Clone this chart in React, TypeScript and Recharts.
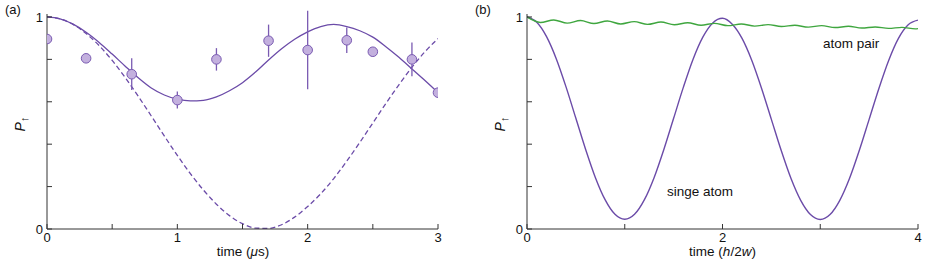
import { ComposedChart, LineChart, Line, Scatter, ErrorBar, XAxis, YAxis } from 'recharts';

// panel (a): measured points, damped fit (solid) and ideal oscillation (dashed)
const timeA = [0, 0.1, 0.2, 0.3, 0.4, 0.5, 0.6, 0.7, 0.8, 0.9, 1.0, 1.1, 1.2, 1.3, 1.4, 1.5, 1.6, 1.7, 1.8, 1.9, 2.0, 2.1, 2.2, 2.3, 2.4, 2.5, 2.6, 2.7, 2.8, 2.9, 3.0];
const fitA = [1.0, 0.991, 0.966, 0.928, 0.88, 0.825, 0.768, 0.713, 0.665, 0.632, 0.612, 0.604, 0.607, 0.623, 0.652, 0.69, 0.74, 0.797, 0.85, 0.895, 0.93, 0.955, 0.965, 0.955, 0.935, 0.905, 0.86, 0.81, 0.755, 0.7, 0.643];
const idealA = [1.0, 0.991, 0.965, 0.922, 0.865, 0.795, 0.714, 0.626, 0.533, 0.439, 0.347, 0.261, 0.184, 0.117, 0.063, 0.025, 0.004, 0.003, 0.02, 0.056, 0.106, 0.166, 0.238, 0.32, 0.408, 0.5, 0.592, 0.68, 0.763, 0.836, 0.898];
const measT = [0, 0.3, 0.65, 1.0, 1.3, 1.7, 2.0, 2.3, 2.5, 2.8, 3.0];
const measP = [0.896, 0.805, 0.73, 0.608, 0.8, 0.888, 0.844, 0.89, 0.836, 0.8, 0.643];
const measErr = [0, 0, 0.075, 0.04, 0.053, 0.076, 0.185, 0.06, 0, 0.08, 0];

// panel (b): single atom vs atom pair
const timeB = [0, 0.1, 0.2, 0.3, 0.4, 0.5, 0.6, 0.7, 0.8, 0.9, 1.0, 1.1, 1.2, 1.3, 1.4, 1.5, 1.6, 1.7, 1.8, 1.9, 2.0, 2.1, 2.2, 2.3, 2.4, 2.5, 2.6, 2.7, 2.8, 2.9, 3.0, 3.1, 3.2, 3.3, 3.4, 3.5, 3.6, 3.7, 3.8, 3.9, 4.0];
const singleB = [1.0, 0.975, 0.907, 0.802, 0.669, 0.522, 0.375, 0.242, 0.137, 0.069, 0.046, 0.069, 0.137, 0.242, 0.375, 0.522, 0.669, 0.802, 0.906, 0.972, 0.994, 0.966, 0.899, 0.795, 0.663, 0.517, 0.371, 0.239, 0.135, 0.068, 0.045, 0.068, 0.135, 0.239, 0.371, 0.517, 0.663, 0.795, 0.899, 0.963, 0.985];
const pairT = [0, 0.137, 0.274, 0.411, 0.548, 0.685, 0.822, 0.959, 1.096, 1.233, 1.37, 1.507, 1.644, 1.781, 1.918, 2.055, 2.192, 2.329, 2.466, 2.603, 2.74, 2.877, 3.014, 3.151, 3.288, 3.425, 3.562, 3.699, 3.836, 3.973, 4.0];
const pairB = [1.0, 0.974, 0.986, 0.971, 0.983, 0.969, 0.981, 0.967, 0.978, 0.965, 0.976, 0.963, 0.973, 0.961, 0.97, 0.959, 0.967, 0.957, 0.964, 0.955, 0.961, 0.952, 0.959, 0.95, 0.956, 0.948, 0.953, 0.946, 0.951, 0.944, 0.945];

const ticksA = [0, 0.5, 1, 1.5, 2, 2.5, 3];
const ticksB = [0, 1, 2, 3, 4];
const ticksP = [0, 0.2, 0.4, 0.6, 0.8, 1];

const fitData = timeA.map((t, i) => ({ t, p: fitA[i] }));
const idealData = timeA.map((t, i) => ({ t, p: idealA[i] }));
const measData = measT.map((t, i) => ({ t, p: measP[i], err: measErr[i] }));
const singleData = timeB.map((t, i) => ({ t, p: singleB[i] }));
const pairData = pairT.map((t, i) => ({ t, p: pairB[i] }));

const FONT = '"Liberation Sans", Arial, Helvetica, sans-serif';
const AXIS = '#333';
const PURPLE = '#6b4ba8';
const GREEN = '#3fa63f';
const tickStyle = { fontSize: 13, fill: '#111', fontFamily: FONT };

function frameAxes(domainX: number[], ticksX: number[], fmtX: (v: number) => string) {
  return [
    <XAxis key="xb" xAxisId="b" type="number" dataKey="t" domain={domainX} ticks={ticksX} interval={0}
      allowDataOverflow height={32} tickSize={-5} tickMargin={9} tickFormatter={fmtX}
      stroke={AXIS} tick={tickStyle} />,
    <XAxis key="xt" xAxisId="t" orientation="top" type="number" dataKey="t" domain={domainX} ticks={ticksX}
      interval={0} allowDataOverflow height={0} tickSize={-5} tick={false} stroke={AXIS} />,
    <YAxis key="yl" yAxisId="l" type="number" domain={[0, 1.014]} ticks={ticksP} interval={0}
      allowDataOverflow width={47} tickSize={-5} tickMargin={9}
      tickFormatter={(v: number) => (v === 0 || v === 1 ? String(v) : '')} stroke={AXIS} tick={tickStyle} />,
    <YAxis key="yr" yAxisId="r" orientation="right" type="number" domain={[0, 1.014]} ticks={ticksP}
      interval={0} allowDataOverflow width={0} tickSize={-5} tick={false} stroke={AXIS} />,
  ];
}

const Dot = (props: any) => (
  <circle cx={props.cx} cy={props.cy} r={4.8} fill="#c3b0de" stroke="#7a5bb2" strokeWidth={1} />
);
const NoDot = () => <g />;

export default function App() {
  return (
    <div style={{ position: 'absolute', left: 0, top: 0, width: 947, height: 261, background: '#fff', fontFamily: FONT }}>
      <div style={{ position: 'absolute', left: 0, top: 0 }}>
        <ComposedChart width={480} height={261} margin={{ top: 14, right: 42, bottom: 0, left: 0 }}>
          {frameAxes([0, 3], ticksA, (v) => (Number.isInteger(v) ? String(v) : ''))}
          <Line data={idealData} dataKey="p" xAxisId="b" yAxisId="l" type="monotone" stroke={PURPLE}
            strokeWidth={1.3} strokeDasharray="5 3" dot={false} isAnimationActive={false} />
          <Line data={fitData} dataKey="p" xAxisId="b" yAxisId="l" type="monotone" stroke={PURPLE}
            strokeWidth={1.3} dot={false} isAnimationActive={false} />
          {/* error bars first so the markers sit on top of them */}
          <Scatter data={measData} dataKey="p" xAxisId="b" yAxisId="l" shape={NoDot} isAnimationActive={false}>
            <ErrorBar dataKey="err" direction="y" width={0} stroke="#7a5bb2" strokeWidth={1.3} />
          </Scatter>
          <Scatter data={measData} dataKey="p" xAxisId="b" yAxisId="l" shape={Dot} isAnimationActive={false} />
        </ComposedChart>
      </div>
      <div style={{ position: 'absolute', left: 480, top: 0 }}>
        <LineChart width={467} height={261} margin={{ top: 14, right: 29, bottom: 0, left: 0 }}>
          {frameAxes([0, 4], ticksB, (v) => (v % 2 === 0 ? String(v) : ''))}
          <Line data={singleData} dataKey="p" xAxisId="b" yAxisId="l" type="monotone" stroke={PURPLE}
            strokeWidth={1.4} dot={false} isAnimationActive={false} />
          <Line data={pairData} dataKey="p" xAxisId="b" yAxisId="l" type="monotone" stroke={GREEN}
            strokeWidth={1.4} dot={false} isAnimationActive={false} />
        </LineChart>
      </div>
      <svg width={947} height={261} style={{ position: 'absolute', left: 0, top: 0, pointerEvents: 'none' }}
        fontFamily={FONT} fill="#111">
        <text x={5} y={14} fontSize={13}>(a)</text>
        <text x={475} y={14} fontSize={13}>(b)</text>
        <text transform="translate(25,124) rotate(-90)" fontSize={14} textAnchor="middle">
          <tspan fontStyle="italic">P</tspan><tspan fontSize={11} dy={3}>↑</tspan>
        </text>
        <text transform="translate(505,124) rotate(-90)" fontSize={14} textAnchor="middle">
          <tspan fontStyle="italic">P</tspan><tspan fontSize={11} dy={3}>↑</tspan>
        </text>
        <text x={243} y={256} fontSize={13.5} textAnchor="middle">
          time (<tspan fontStyle="italic">μ</tspan>s)
        </text>
        <text x={722.5} y={256} fontSize={13.5} textAnchor="middle">
          time (<tspan fontStyle="italic">h</tspan>/2<tspan fontStyle="italic">w</tspan>)
        </text>
        <text x={823} y={48} fontSize={13.5}>atom pair</text>
        <text x={667} y={196} fontSize={13.5}>singe atom</text>
      </svg>
    </div>
  );
}
